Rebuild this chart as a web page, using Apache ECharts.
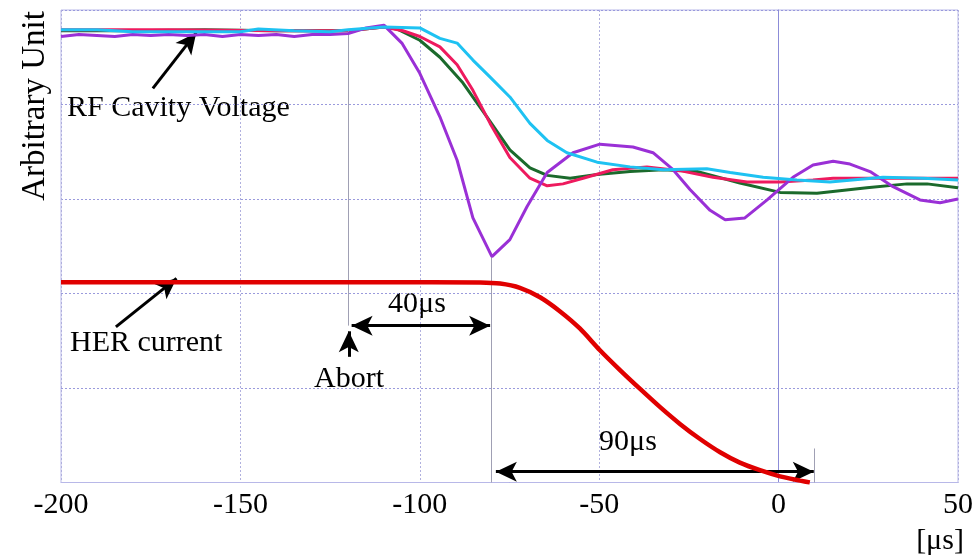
<!DOCTYPE html>
<html>
<head>
<meta charset="utf-8">
<script src="https://cdn.jsdelivr.net/npm/echarts@6/dist/echarts.min.js"></script>
<style>html,body{margin:0;padding:0;background:#fff}#c{width:978px;height:558px}</style>
</head>
<body>
<div id="c"></div>
<script>
// x in microseconds, y in arbitrary units (0..5)
const xTicks = [-200, -150, -100, -50, 0, 50];

const rfGreen = [[-200,4.78],[-180,4.78],[-160,4.79],[-140,4.78],[-120,4.78],[-110,4.82],[-106.4,4.80],[-100,4.68],[-94.4,4.50],[-88,4.23],[-81.3,3.87],[-74.9,3.52],[-69.3,3.33],[-64.5,3.25],[-58.1,3.22],[-50.6,3.26],[-41.4,3.29],[-32.2,3.31],[-22.5,3.29],[-10.8,3.17],[0.4,3.07],[10.7,3.06],[24.6,3.12],[35.8,3.16],[41.4,3.16],[50,3.12]];

const rfRed = [[-200,4.79],[-170,4.79],[-140,4.78],[-120,4.78],[-110,4.82],[-104.7,4.78],[-100,4.72],[-94.4,4.61],[-89.6,4.42],[-85.2,4.15],[-80.4,3.80],[-74.9,3.44],[-69.3,3.22],[-64.5,3.14],[-60.1,3.16],[-54.5,3.22],[-46.2,3.31],[-36.7,3.34],[-27.5,3.30],[-18.3,3.23],[-8.8,3.18],[0.4,3.18],[9.6,3.20],[15.2,3.22],[29.1,3.22],[50,3.22]];

const rfCyan = [[-200,4.79],[-190,4.79],[-180,4.77],[-170,4.77],[-160,4.77],[-150,4.77],[-145,4.80],[-135,4.78],[-125,4.77],[-120,4.79],[-110,4.82],[-100,4.81],[-94.4,4.70],[-89.6,4.65],[-85.2,4.47],[-80.4,4.29],[-74.9,4.08],[-69.3,3.80],[-64.5,3.62],[-59,3.49],[-50.6,3.39],[-41.4,3.34],[-32.2,3.31],[-20,3.32],[-13.5,3.28],[-4.3,3.23],[5.1,3.20],[14.3,3.18],[29.1,3.23],[40.2,3.22],[50,3.20]];

const rfPurple = [[-200,4.72],[-195,4.74],[-190,4.73],[-185,4.72],[-180,4.74],[-175,4.73],[-170,4.74],[-165,4.73],[-160,4.74],[-155,4.72],[-150,4.74],[-145,4.73],[-140,4.74],[-135,4.72],[-130,4.74],[-125,4.74],[-120,4.75],[-115,4.81],[-110,4.84],[-105,4.65],[-100,4.33],[-94.4,3.87],[-89.6,3.41],[-85.2,2.80],[-79.9,2.39],[-74.9,2.57],[-70.1,2.92],[-64.5,3.28],[-57.3,3.49],[-49.8,3.58],[-40.6,3.55],[-35,3.49],[-29.4,3.31],[-24.7,3.10],[-19.1,2.88],[-14.9,2.78],[-9.4,2.80],[-3.2,2.99],[4,3.23],[9.6,3.36],[15.2,3.40],[19.9,3.37],[25.5,3.29],[31.9,3.13],[39.4,2.99],[45,2.96],[50,3.00]];

const herCurrent = [[-200,2.12],[-170,2.12],[-140,2.12],[-110,2.12],[-83.2,2.116],[-77.6,2.105],[-72.1,2.06],[-66.5,1.96],[-60.9,1.81],[-55.4,1.63],[-49.8,1.40],[-44.2,1.19],[-38.6,0.99],[-33.1,0.80],[-27.5,0.62],[-21.9,0.46],[-16.3,0.32],[-10.8,0.21],[-5.2,0.13],[0.4,0.065],[6,0.02],[8.7,0]];

const FONT = '"Liberation Serif", "Times New Roman", serif';
const chart = echarts.init(document.getElementById('c'), null, {renderer: 'canvas'});

function arrow(from, to, twoHeads) {
  return [
    {coord: from, symbol: twoHeads ? 'arrow' : 'none', symbolSize: [15, 21],
     lineStyle: {color: '#000', width: 3, type: 'solid'}},
    {coord: to, symbol: 'arrow', symbolSize: [15, 21]}
  ];
}
function vline(x, y0, y1) {
  return [
    {coord: [x, y0], symbol: 'none', lineStyle: {color: '#A0A0B4', width: 1, type: 'solid'}},
    {coord: [x, y1], symbol: 'none'}
  ];
}

const lineSeries = (name, data, color, width, z) => ({
  name, type: 'line', data, showSymbol: false, symbol: 'none',
  lineStyle: {color, width}, z, animation: false, silent: true
});

chart.setOption({
  animation: false,
  grid: {left: 61, right: 20, top: 10, bottom: 75.5, show: true, borderColor: '#B8B8E8', borderWidth: 1},
  xAxis: {
    type: 'value', min: -200, max: 50, interval: 50,
    axisLine: {show: true, lineStyle: {color: '#B8B8E8', width: 1}},
    axisTick: {show: false},
    axisLabel: {color: '#000', fontFamily: FONT, fontSize: 30, margin: 8,
      formatter: v => xTicks.includes(v) ? String(v) : ''},
    splitLine: {show: true, lineStyle: {color: '#B0B0DE', type: [2, 2], width: 1}}
  },
  yAxis: {
    type: 'value', min: 0, max: 5, interval: 1,
    axisLine: {show: true, lineStyle: {color: '#8C8CD8', width: 1}},
    axisTick: {show: false},
    axisLabel: {show: false},
    splitLine: {show: true, lineStyle: {color: '#9A9ADC', type: [2, 2], width: 1}}
  },
  series: [
    Object.assign(lineSeries('marks', [], '#000', 1, 1), {
      markLine: {
        silent: true, animation: false, label: {show: false},
        data: [
          vline(-120, 4.80, 1.66),
          vline(-80, 2.39, 0),
          vline(10, 0.36, 0)
        ]
      }
    }),
    lineSeries('green', rfGreen, '#1B6A2C', 3, 3),
    lineSeries('red', rfRed, '#EE1A5E', 3, 4),
    lineSeries('purple', rfPurple, '#9A30D6', 3, 5),
    lineSeries('cyan', rfCyan, '#1EC2F2', 3, 6),
    Object.assign(lineSeries('HER', herCurrent, '#E00000', 4.5, 7), {
      smooth: 0.25,
      markLine: {
        silent: true, animation: false, label: {show: false},
        data: [
          arrow([-174.4, 4.17], [-162.3, 4.76], false),
          arrow([-184.7, 1.646], [-167.8, 2.16], false),
          arrow([-119.0, 1.66], [-80.4, 1.66], true),
          arrow([-119.8, 1.33], [-119.8, 1.60], false),
          arrow([-78.8, 0.114], [9.8, 0.114], true)
        ]
      }
    })
  ],
  graphic: [
    {type: 'text', x: 35, y: 106, rotation: Math.PI / 2,
     style: {text: 'Arbitrary Unit', font: '33px ' + FONT, fill: '#000', align: 'center', verticalAlign: 'middle'}},
    {type: 'text', x: 67, y: 108,
     style: {text: 'RF Cavity Voltage', font: '30px ' + FONT, fill: '#000', align: 'left', verticalAlign: 'middle'}},
    {type: 'text', x: 70, y: 343,
     style: {text: 'HER current', font: '30px ' + FONT, fill: '#000', align: 'left', verticalAlign: 'middle'}},
    {type: 'text', x: 417, y: 304,
     style: {text: '40\u03bcs', font: '30px ' + FONT, fill: '#000', align: 'center', verticalAlign: 'middle'}},
    {type: 'text', x: 349, y: 379,
     style: {text: 'Abort', font: '30px ' + FONT, fill: '#000', align: 'center', verticalAlign: 'middle'}},
    {type: 'text', x: 628, y: 442,
     style: {text: '90\u03bcs', font: '30px ' + FONT, fill: '#000', align: 'center', verticalAlign: 'middle'}},
    {type: 'text', x: 940, y: 541,
     style: {text: '[\u03bcs]', font: '30px ' + FONT, fill: '#000', align: 'center', verticalAlign: 'middle'}}
  ]
});
</script>
</body>
</html>
